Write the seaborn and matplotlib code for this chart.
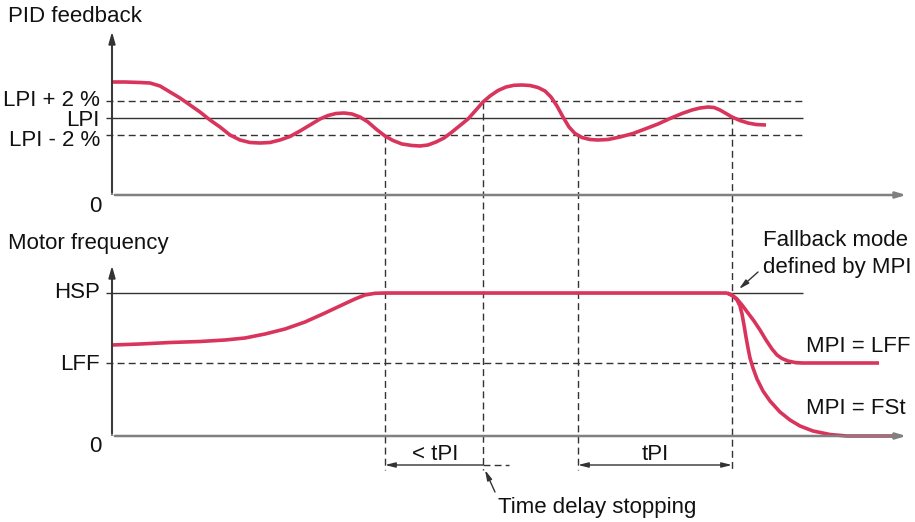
import pandas as pd
import seaborn as sns
import matplotlib.pyplot as plt

# drawing units = pixels of the 915x522 picture, y grows downward
# PID feedback curve (upper panel)
fb_x = [112, 125, 140, 150, 160, 170, 180, 190, 200, 210, 220, 230, 240, 250, 260, 270,
        280, 290, 300, 310, 320, 328, 336, 344, 352, 360, 368, 376, 385, 393, 402, 412,
        420, 428, 436, 444, 452, 460, 468, 476, 483, 490, 498, 506, 514, 522, 530, 538,
        545, 551, 557, 563, 569, 575, 582, 590, 598, 608, 620, 633, 645, 658, 670, 682,
        692, 700, 708, 714, 720, 726, 732, 740, 748, 756, 766]
fb_y = [82, 82, 82.5, 83, 86, 92, 98, 105, 112, 120, 127, 135, 140, 142.5, 143, 142.5,
        140, 136.5, 131, 125, 119, 115.5, 113.5, 113, 114, 117, 122, 129, 136, 140.5, 144, 145.5,
        146, 145, 142, 138, 132, 125.5, 119, 110, 102, 96, 90.5, 87, 85.3, 85, 85.5, 87.5,
        91, 97, 106, 117, 127, 133.5, 137.5, 139.5, 140, 139.5, 137, 133.5, 129, 124, 118.5, 113.5,
        110, 108, 107, 107.5, 110, 113.5, 117, 120.5, 123, 124.5, 125]

# motor frequency (lower panel)
mf_x = [112, 140, 170, 200, 225, 245, 265, 285, 305, 325, 342, 355, 365, 375, 385, 500, 600, 727]
mf_y = [345, 344, 342.5, 341.5, 340, 338, 334, 329, 322, 313, 305, 299, 295, 293.3, 293, 293, 293, 293]
lff_x = [727, 732, 737, 742, 748, 754, 760, 766, 772, 777, 782, 788, 795, 803, 840, 879]
lff_y = [293, 295, 299, 305, 313, 321, 330, 340, 349, 355, 358.5, 361, 362.5, 363, 363, 363]
fst_x = [727, 733, 737, 740, 742, 744, 746, 748, 750, 753, 757, 763, 770, 780, 790, 800,
         813, 830, 847, 893]
fst_y = [293, 296, 300, 306, 314, 325, 337, 348, 358, 368, 379, 391, 401, 412, 420, 426,
         431, 434.5, 436, 436]

# reference levels
top_levels = {'LPI + 2 %': 101, 'LPI': 118, 'LPI - 2 %': 135}
top_label_y = [100, 120, 141]
top_styles = ['dashed', 'solid', 'dashed']
bot_levels = {'HSP': 293, 'LFF': 363}
bot_label_y = [293, 365]
bot_styles = ['solid', 'dashed']

# time markers and where they leave the feedback curve
t_marks = [385, 483, 578, 732]
t_start = [136, 102, 136, 117]

RED = '#d9345c'
INK = '#333333'
AXC = '#808080'
TXT = '#111111'
DASH = (0, (5, 3))

sns.set_style('white')
plt.rcParams['font.family'] = ['Liberation Sans', 'DejaVu Sans']

fig = plt.figure(figsize=(9.15, 5.22), dpi=100)
ax = fig.add_axes([0, 0, 1, 1])
ax.set_xlim(0, 915)
ax.set_ylim(522, 0)
ax.axis('off')

fs = 16

# axes with arrows
for ox, oy, ty in [(112, 195, 29), (112, 436, 263)]:
    ax.annotate('', xy=(ox, ty), xytext=(ox, oy),
                arrowprops=dict(arrowstyle='-|>,head_length=0.7,head_width=0.2', color=INK, lw=1.3))
    ax.annotate('', xy=(909, oy), xytext=(ox, oy),
                arrowprops=dict(arrowstyle='-|>,head_length=0.6,head_width=0.18', color=AXC, lw=1.8))
    ax.plot([ox, ox], [oy, ty + 8], color=AXC, lw=1.5)

# reference lines
for (lab, yv), ly, st in zip(top_levels.items(), top_label_y, top_styles):
    ax.plot([106, 803], [yv, yv], color=INK, lw=1.0,
            linestyle=DASH if st == 'dashed' else '-')
    ax.text(100, ly, lab, ha='right', va='center', fontsize=fs, color=TXT)
for (lab, yv), ly, st in zip(bot_levels.items(), bot_label_y, bot_styles):
    ax.plot([106, 803], [yv, yv], color=INK, lw=1.0,
            linestyle=DASH if st == 'dashed' else '-')
    ax.text(100, ly, lab, ha='right', va='center', fontsize=fs, color=TXT)

# vertical time markers
for xv, ys in zip(t_marks, t_start):
    ax.plot([xv, xv], [ys, 470], color=INK, lw=1.0, linestyle=DASH)

# curves
for cx, cy in [(fb_x, fb_y), (mf_x, mf_y), (lff_x, lff_y), (fst_x, fst_y)]:
    sns.lineplot(x=cx, y=cy, sort=False, estimator=None, color=RED, lw=2.6, ax=ax)
for ln in ax.get_lines():
    ln.set_solid_joinstyle('round')
    ln.set_solid_capstyle('butt')

# axis titles and zeros
ax.text(8, 17, 'PID feedback', ha='left', va='center', fontsize=fs, color=TXT)
ax.text(8, 243, 'Motor frequency', ha='left', va='center', fontsize=fs, color=TXT)
ax.text(101, 206, '0', ha='right', va='center', fontsize=fs, color=TXT)
ax.text(101, 446, '0', ha='right', va='center', fontsize=fs, color=TXT)

# time spans
ax.annotate('', xy=(t_marks[0], 465), xytext=(t_marks[1], 465),
            arrowprops=dict(arrowstyle='-|>,head_length=0.6,head_width=0.15', color=INK, lw=1.0,
                            shrinkA=0, shrinkB=0))
ax.plot([t_marks[1], 509], [465, 465], color=INK, lw=1.0, linestyle=DASH)
ax.annotate('', xy=(t_marks[2], 465), xytext=(t_marks[3], 465),
            arrowprops=dict(arrowstyle='<|-|>,head_length=0.6,head_width=0.15', color=INK, lw=1.0,
                            shrinkA=0, shrinkB=0))
ax.text(435, 454, '< tPI', ha='center', va='center', fontsize=fs, color=TXT)
ax.text(655, 454, 'tPI', ha='center', va='center', fontsize=fs, color=TXT)

# annotations
ax.annotate('', xy=(485, 470), xytext=(495, 492),
            arrowprops=dict(arrowstyle='-|>,head_length=0.6,head_width=0.15', color=INK, lw=1.0,
                            shrinkA=0, shrinkB=0))
ax.text(498, 508, 'Time delay stopping', ha='left', va='center', fontsize=fs, color=TXT)
ax.annotate('', xy=(739, 289), xytext=(758, 272),
            arrowprops=dict(arrowstyle='-|>,head_length=0.6,head_width=0.15', color=INK, lw=1.0,
                            shrinkA=0, shrinkB=0))
ax.text(763, 241, 'Fallback mode', ha='left', va='center', fontsize=fs, color=TXT)
ax.text(763, 268, 'defined by MPI', ha='left', va='center', fontsize=fs, color=TXT)
ax.text(806, 347, 'MPI = LFF', ha='left', va='center', fontsize=fs, color=TXT)
ax.text(806, 409, 'MPI = FSt', ha='left', va='center', fontsize=fs, color=TXT)

fig.savefig('out.png', dpi=100)
